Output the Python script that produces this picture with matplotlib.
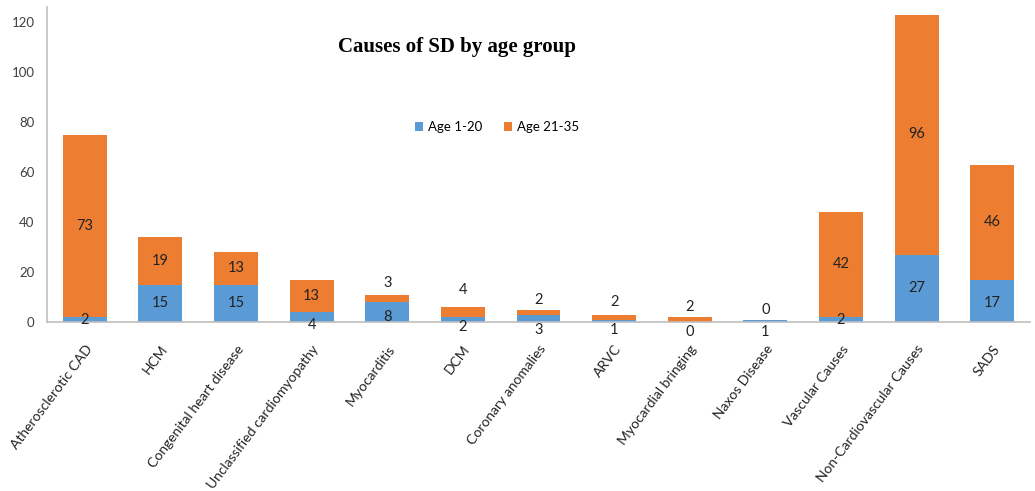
import matplotlib
matplotlib.use("Agg")
import matplotlib.pyplot as plt
import numpy as np

categories = ["Atherosclerotic CAD", "HCM", "Congenital heart disease",
              "Unclassified cardiomyopathy", "Myocarditis", "DCM",
              "Coronary anomalies", "ARVC", "Myocardial bringing",
              "Naxos Disease", "Vascular Causes", "Non-Cardiovascular Causes", "SADS"]
age_1_20 = [2, 15, 15, 4, 8, 2, 3, 1, 0, 1, 2, 27, 17]
age_21_35 = [73, 19, 13, 13, 3, 4, 2, 2, 2, 0, 42, 96, 46]
series_names = ["Age 1-20", "Age 21-35"]
title = "Causes of SD by age group"
yticks = [0, 20, 40, 60, 80, 100, 120]

# label pixel offsets (layout only)
blue_off = [0, 0, 0, -8, -5, -7.5, -11.5, -9, -10, -11, 0, 0, -2]
orange_off = [0, 0, 0, 0, 15, 22, 12, 15, 12.5, 9.5, 0, 0, 0]

BLUE = "#5B9BD5"
ORANGE = "#ED7D31"
FONT = ["Lato", "DejaVu Sans"]
plt.rcParams["font.family"] = FONT

fig = plt.figure(figsize=(10.35, 4.91), dpi=100)
ax = fig.add_axes([47/1035, 1-322/491, (1030-47)/1035, (322-7)/491])

x = np.arange(len(categories))
w = 0.58
b1 = ax.bar(x, age_1_20, w, color=BLUE, label=series_names[0])
b2 = ax.bar(x, age_21_35, w, bottom=age_1_20, color=ORANGE, label=series_names[1])

for i in range(len(categories)):
    yc = age_1_20[i] / 2
    ax.annotate(str(age_1_20[i]), (x[i], yc), xytext=(0, blue_off[i]),
                textcoords="offset pixels", ha="center", va="center",
                fontsize=10.5, color="#222222")
    yc2 = age_1_20[i] + age_21_35[i] / 2
    ax.annotate(str(age_21_35[i]), (x[i], yc2), xytext=(0, orange_off[i]),
                textcoords="offset pixels", ha="center", va="center",
                fontsize=10.5, color="#222222")

ax.set_xlim(-0.5, len(categories) - 0.5)
ax.set_ylim(0, 126)
ax.set_yticks(yticks)
ax.tick_params(axis="y", length=0, pad=9, labelsize=9.5, labelcolor="#404040")
ax.set_xticks(x)
ax.set_xticklabels(categories, rotation=53, ha="right", rotation_mode="anchor",
                   fontsize=10, color="#222222")
ax.tick_params(axis="x", length=0, pad=15)
for s in ["top", "right"]:
    ax.spines[s].set_visible(False)
for s in ["left", "bottom"]:
    ax.spines[s].set_color("#BFBFBF")
    ax.spines[s].set_linewidth(1.2)

fig.text(457/1035, 1-47/491, title, ha="center", va="center",
         fontsize=15, fontweight="bold", family=["Liberation Serif", "DejaVu Serif"])

ax.legend(loc="center", bbox_to_anchor=(497/1035, 1-127/491),
          bbox_transform=fig.transFigure, ncol=2, frameon=False,
          fontsize=9.5, handlelength=0.6, handleheight=0.6, columnspacing=1.6,
          handletextpad=0.4)

fig.savefig("out.png", dpi=100)
